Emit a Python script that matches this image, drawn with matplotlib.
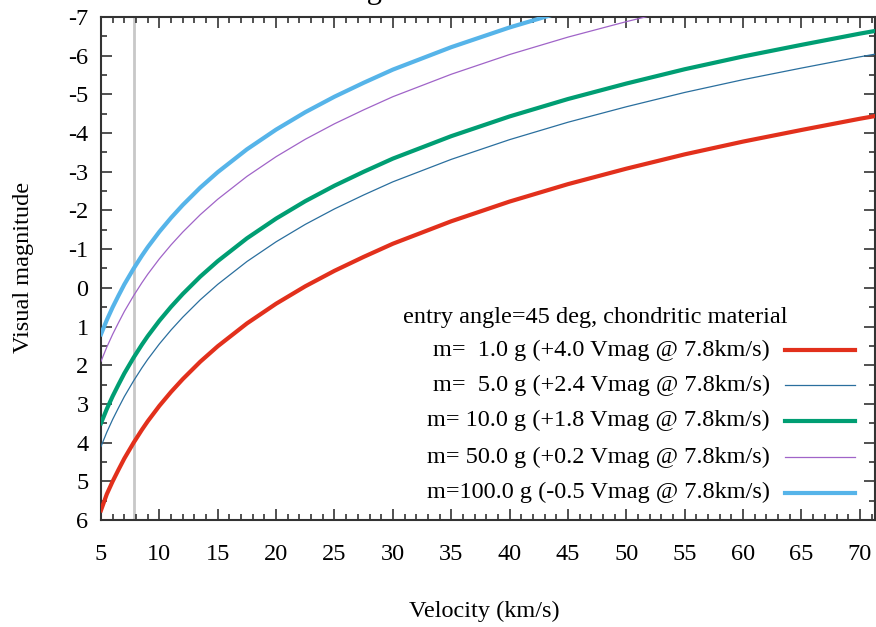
import matplotlib
matplotlib.use("Agg")
from matplotlib import pyplot as plt
from matplotlib.ticker import MultipleLocator

plt.rcParams['font.family'] = ['Liberation Serif', 'DejaVu Serif']
plt.rcParams['axes.unicode_minus'] = False

vel = [5, 5.5, 6, 6.5, 7, 7.8, 8.5, 9, 10, 11, 12, 13.5, 15, 17.5, 20, 22.5,
       25, 27.5, 30, 35, 40, 45, 50, 55, 60, 65, 70, 71.5]

# visual magnitude for each meteoroid mass
mag_1g = [5.75, 5.33, 5.00, 4.70, 4.41, 4.00, 3.67, 3.45, 3.05, 2.69, 2.36,
          1.91, 1.51, 0.92, 0.41, -0.04, -0.44, -0.80, -1.14, -1.72, -2.23,
          -2.68, -3.08, -3.45, -3.78, -4.08, -4.37, -4.45]
mag_5g = [4.10, 3.73, 3.40, 3.10, 2.81, 2.40, 2.07, 1.85, 1.45, 1.09, 0.76,
          0.31, -0.09, -0.68, -1.19, -1.64, -2.04, -2.40, -2.74, -3.32, -3.83,
          -4.28, -4.68, -5.05, -5.38, -5.68, -5.97, -6.05]
mag_10g = [3.50, 3.13, 2.80, 2.50, 2.21, 1.80, 1.47, 1.25, 0.85, 0.49, 0.16,
           -0.29, -0.69, -1.28, -1.79, -2.24, -2.64, -3.00, -3.34, -3.92, -4.43,
           -4.88, -5.28, -5.65, -5.98, -6.28, -6.57, -6.65]
mag_50g = [1.90, 1.53, 1.20, 0.90, 0.61, 0.20, -0.13, -0.35, -0.75, -1.11,
           -1.44, -1.89, -2.29, -2.88, -3.39, -3.84, -4.24, -4.60, -4.94, -5.52,
           -6.03, -6.48, -6.88, -7.25]
mag_100g = [1.20, 0.83, 0.50, 0.20, -0.09, -0.50, -0.83, -1.05, -1.45, -1.81,
            -2.14, -2.59, -2.99, -3.58, -4.09, -4.54, -4.94, -5.30, -5.64,
            -6.22, -6.73, -7.18]

labels = ["m=  1.0 g (+4.0 Vmag @ 7.8km/s)",
          "m=  5.0 g (+2.4 Vmag @ 7.8km/s)",
          "m= 10.0 g (+1.8 Vmag @ 7.8km/s)",
          "m= 50.0 g (+0.2 Vmag @ 7.8km/s)",
          "m=100.0 g (-0.5 Vmag @ 7.8km/s)"]
series = [mag_1g, mag_5g, mag_10g, mag_50g, mag_100g]
colors = ['#e2301c', '#2a6f9e', '#009e73', '#a064c8', '#56b4e9']
widths = [3.0, 0.9, 3.0, 0.9, 3.0]

ref_velocity = 7.8
fs = 17.5

fig = plt.figure(figsize=(8.76, 6.27), dpi=100)
ax = fig.add_axes([0.1153, 0.1707, 0.8836, 0.8022])

ax.axvline(ref_velocity, color='#c8c8c8', lw=2, zorder=1)
for mag, col, lw in zip(series, colors, widths):
    ax.plot(vel[:len(mag)], mag, color=col, lw=lw, zorder=3)

ax.set_xlim(5, 71.3)
ax.set_ylim(6, -7)
ax.xaxis.set_major_locator(MultipleLocator(5))
ax.xaxis.set_minor_locator(MultipleLocator(1))
ax.yaxis.set_major_locator(MultipleLocator(1))
ax.yaxis.set_minor_locator(MultipleLocator(0.5))
ax.tick_params(which='both', direction='in', top=True, right=True,
               labelsize=fs, width=1.2, color='#333333')
ax.tick_params(which='major', length=8)
ax.tick_params(which='minor', length=4)
ax.tick_params(axis='x', pad=17)
ax.tick_params(axis='y', pad=9)
for s in ax.spines.values():
    s.set_linewidth(1.5)
    s.set_color('#333333')

# key, drawn gnuplot style (right aligned text, sample to the right)
ax.text(0.638, 0.402, "entry angle=45 deg, chondritic material",
        transform=ax.transAxes, ha='center', va='center', fontsize=fs)
key_y = [0.338, 0.268, 0.197, 0.125, 0.054]
for lab, col, lw, yy in zip(labels, colors, widths, key_y):
    ax.text(0.864, yy, lab, transform=ax.transAxes, ha='right', va='center',
            fontsize=fs)
    ax.plot([0.884, 0.974], [yy, yy], transform=ax.transAxes, color=col,
            lw=lw, clip_on=False)

fig.text(24 / 876, 0.5727, "Visual magnitude", rotation=90, ha='center',
         va='center', fontsize=fs)
fig.text(0.553, 1 - 611 / 627, "Velocity (km/s)", ha='center', va='center',
         fontsize=fs)
# title sits above the visible area, only the descender shows
fig.text(0.267, 1.0032, "Meteor magnitude", ha='left', va='baseline',
         fontsize=22)

fig.savefig('out.png', dpi=100)
